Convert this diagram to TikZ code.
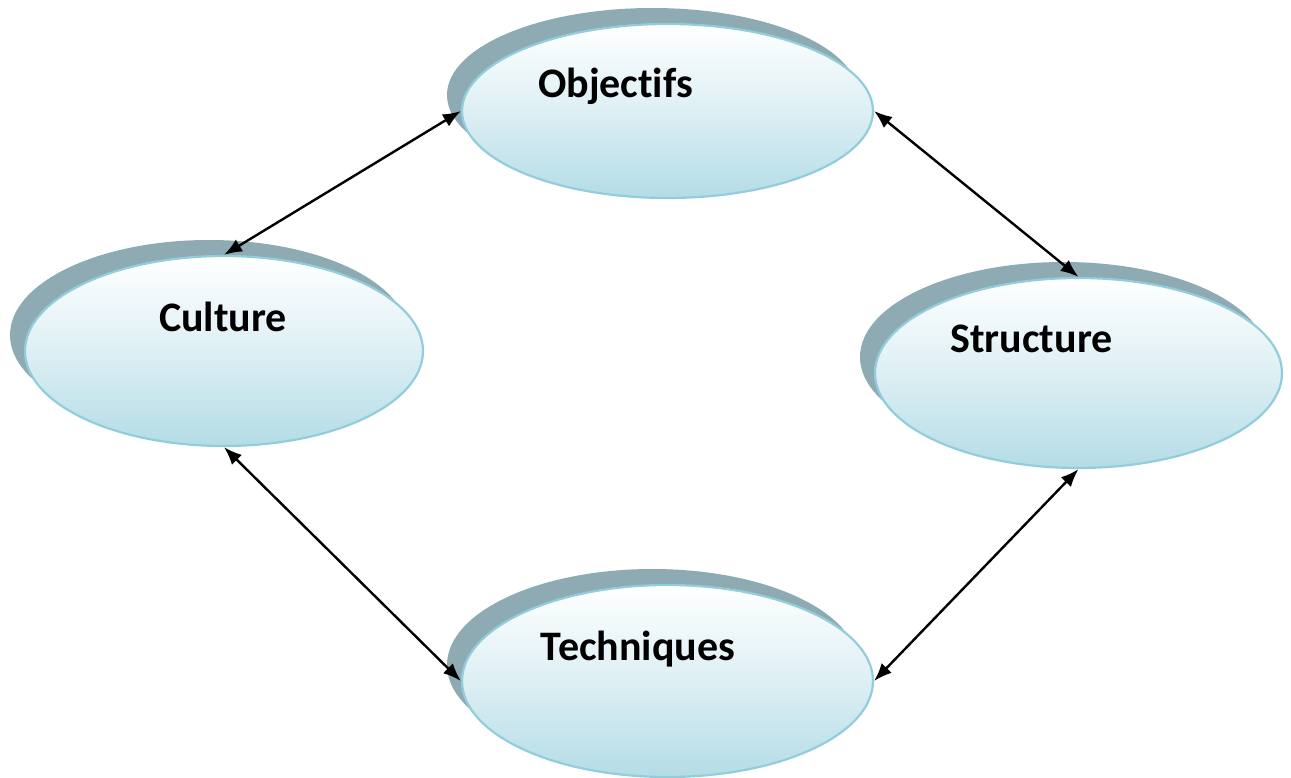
\documentclass[tikz,border=0pt]{standalone}
\usepackage{fontspec}
\setmainfont{Carlito}[Ligatures=CommonOff]
\usetikzlibrary{shapes.geometric,shadows,arrows.meta}
\definecolor{shadowc}{HTML}{8EAAB2}
\definecolor{rimc}{HTML}{92CDDC}
\definecolor{fillbot}{HTML}{B4DCE6}
\tikzset{
  bubble/.style={ellipse, inner sep=0pt, draw=rimc, line width=2.2pt,
    top color=white, bottom color=fillbot, middle color=white!55!fillbot,
    drop shadow={shadow xshift=-15pt, shadow yshift=16pt, fill=shadowc, opacity=1}},
  caption/.style={anchor=base, font=\bfseries\fontsize{42pt}{48pt}\selectfont, inner sep=0pt},
  link/.style={{Latex[length=18pt,width=14pt]}-{Latex[length=18pt,width=14pt]}, line width=2.4pt, black}
}
\begin{document}
\begin{tikzpicture}[x=1pt,y=-1pt]
  \useasboundingbox (0,0) rectangle (1291,778);
  % the four ellipses
  \node[bubble, minimum width=411pt, minimum height=174pt] (obj) at (667.5,111) {};
  \node[bubble, minimum width=398pt, minimum height=190pt] (cul) at (224,351) {};
  \node[bubble, minimum width=407pt, minimum height=190pt] (str) at (1078.5,373) {};
  \node[bubble, minimum width=411pt, minimum height=192pt] (tec) at (667.5,681) {};
  % their captions
  \node[caption] (objt) at (615.5,98) {Objectifs};
  \node[caption] (cult) at (223,331) {Culture};
  \node[caption] (strt) at (1031.5,352) {Structure};
  \node[caption] (tect) at (638,660) {Techniques};
  % two-way links
  \draw[link] (obj.west) -- (cul.north);
  \draw[link] (obj.east) -- (str.north);
  \draw[link] (cul.south) -- (tec.west);
  \draw[link] (str.south) -- (tec.east);
\end{tikzpicture}
\end{document}
